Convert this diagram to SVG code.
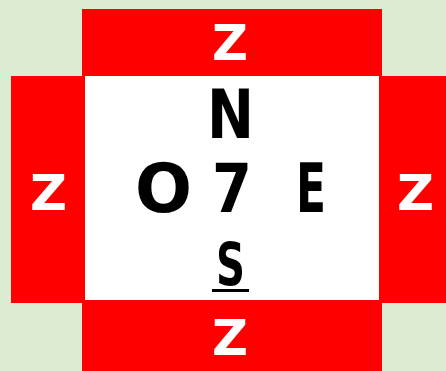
<svg xmlns="http://www.w3.org/2000/svg" width="446" height="371" viewBox="0 0 446 371">
<style>
.red{fill:#ff0000}
.z{fill:#ffffff;font-family:"DejaVu Sans",sans-serif;font-weight:bold;font-size:50px;text-anchor:middle}
.t{fill:#000000;font-family:"DejaVu Sans",sans-serif;font-weight:bold;font-size:67px;text-anchor:middle}
</style>
<rect x="0" y="0" width="446" height="371" fill="#dbecd3"/>
<g id="top">
<rect class="red" x="82" y="9" width="300" height="67"/>
<text class="z" x="230" y="60" textLength="36" lengthAdjust="spacingAndGlyphs">Z</text>
</g>
<g id="left">
<rect class="red" x="11" y="76" width="74" height="227"/>
<text class="z" x="48.5" y="210" textLength="37" lengthAdjust="spacingAndGlyphs">Z</text>
</g>
<g id="right">
<rect class="red" x="379" y="76" width="67" height="227"/>
<text class="z" x="415.5" y="210" textLength="37" lengthAdjust="spacingAndGlyphs">Z</text>
</g>
<g id="bottom">
<rect class="red" x="82" y="300" width="300" height="71"/>
<text class="z" x="230" y="355" textLength="36" lengthAdjust="spacingAndGlyphs">Z</text>
</g>
<g id="center">
<rect x="85" y="76" width="294" height="224" fill="#ffffff"/>
<text class="t" x="230.5" y="138" textLength="47" lengthAdjust="spacingAndGlyphs">N</text>
<text class="t" x="163.5" y="212" textLength="57" lengthAdjust="spacingAndGlyphs">O</text>
<text class="t" x="232" y="212" textLength="40" lengthAdjust="spacingAndGlyphs">7</text>
<text class="t" x="311" y="212" textLength="30" lengthAdjust="spacingAndGlyphs">E</text>
<text class="t" x="230.5" y="285" style="font-size:59px" textLength="29" lengthAdjust="spacingAndGlyphs">S</text>
<rect x="212" y="289" width="37" height="3" fill="#000000"/>
</g>
</svg>
